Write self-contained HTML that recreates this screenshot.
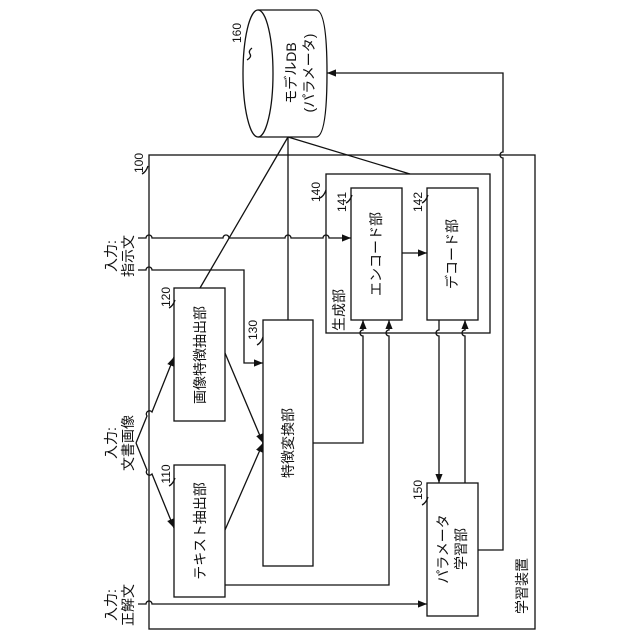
<!DOCTYPE html>
<html><head><meta charset="utf-8"><style>
body{margin:0;background:#fff}
svg{display:block}
text{font-family:"Liberation Sans","Noto Sans CJK JP",sans-serif;fill:#111}
</style></head><body>
<svg width="640" height="640" viewBox="0 0 640 640" xmlns="http://www.w3.org/2000/svg">
<defs>
<marker id="a" viewBox="0 0 10 10" refX="10" refY="5" markerWidth="7" markerHeight="7" orient="auto-start-reverse"><path d="M0,1 L10,5 L0,9 z" fill="#111"/></marker>
</defs>
<g fill="none" stroke="#111" stroke-width="1.3">
<!-- cylinder -->
<path d="M258,10 L316,10 Q327,10 327,73 Q327,137 316,137 L258,137"/>
<ellipse cx="258" cy="73.5" rx="15" ry="63.5" fill="#fff"/>
<!-- outer box -->
<rect x="149" y="155" width="386" height="474"/>
<!-- generator -->
<rect x="326" y="174" width="164" height="159"/>
<rect x="351" y="188" width="51" height="132"/>
<rect x="427" y="188" width="51" height="132"/>
<rect x="174" y="288" width="51" height="133"/>
<rect x="174" y="465" width="51" height="132"/>
<rect x="263" y="320" width="50" height="246"/>
<rect x="427" y="483" width="51" height="133"/>
<!-- DB lines -->
<line x1="288" y1="137" x2="288" y2="320"/>
<line x1="288" y1="137" x2="200" y2="288"/>
<line x1="288" y1="137" x2="410" y2="174"/>
<!-- input 指示文 -->
<path d="M138,238 L146,238 a3,3 0 0 1 6,0 L223,238 a3,3 0 0 1 6,0 L285,238 a3,3 0 0 1 6,0 L323,238 a3,3 0 0 1 6,0 L351,238" marker-end="url(#a)"/>
<path d="M138,270 L146,270 a3,3 0 0 1 6,0 L244,270 L244,363 L263,363" marker-end="url(#a)"/>
<!-- enc->dec -->
<line x1="402" y1="253" x2="427" y2="253" marker-end="url(#a)"/>
<!-- document image -->
<path d="M136,443 L147,416 a3,3 0 0 1 5,-4 L174,357" marker-end="url(#a)"/>
<path d="M136,443 L147,470 a3,3 0 0 0 5,4 L174,528" marker-end="url(#a)"/>
<line x1="225" y1="353" x2="263" y2="443" marker-end="url(#a)"/>
<line x1="225" y1="530" x2="263" y2="443" marker-end="url(#a)"/>
<path d="M313,443 L363,443 L363,336 a3,3 0 0 1 0,-6 L363,320" marker-end="url(#a)"/>
<path d="M225,585 L389,585 L389,336 a3,3 0 0 1 0,-6 L389,320" marker-end="url(#a)"/>
<path d="M439,320 L439,330 a3,3 0 0 0 0,6 L439,483" marker-end="url(#a)"/>
<path d="M465,483 L465,336 a3,3 0 0 1 0,-6 L465,320" marker-end="url(#a)"/>
<path d="M138,604 L146,604 a3,3 0 0 1 6,0 L427,604" marker-end="url(#a)"/>
<path d="M478,550 L503,550 L503,158 a3,3 0 0 1 0,-6 L503,73 L327,73" marker-end="url(#a)"/>
<!-- leaders -->
<path d="M252,48 q-4,3 -2,6 t-3,6"/>
<path d="M148,166 q-2,6 -6,8"/>
<path d="M326,190 q-2,6 -6,8"/>
<path d="M352,195 q-2,6 -6,8"/>
<path d="M428,195 q-2,6 -6,8"/>
<path d="M175,300 q-2,6 -6,8"/>
<path d="M263,337 q-2,6 -6,8"/>
<path d="M175,478 q-2,6 -6,8"/>
<path d="M428,497 q-2,6 -6,8"/>
</g>
<g font-size="14" text-anchor="middle">
<text transform="translate(296,73) rotate(-90)">モデルDB</text>
<text transform="translate(314,73) rotate(-90)">(パラメータ)</text>
<text transform="translate(381,254) rotate(-90)">エンコード部</text>
<text transform="translate(457,254) rotate(-90)">デコード部</text>
<text transform="translate(205,355) rotate(-90)">画像特徴抽出部</text>
<text transform="translate(205,531) rotate(-90)">テキスト抽出部</text>
<text transform="translate(293,443) rotate(-90)">特徴変換部</text>
<text transform="translate(448,549) rotate(-90)">パラメータ</text>
<text transform="translate(466,549) rotate(-90)">学習部</text>
<text transform="translate(344,310) rotate(-90)">生成部</text>
<text transform="translate(527,586) rotate(-90)">学習装置</text>
<text transform="translate(116,256) rotate(-90)">入力:</text>
<text transform="translate(133,256) rotate(-90)">指示文</text>
<text transform="translate(116,443) rotate(-90)">入力:</text>
<text transform="translate(133,443) rotate(-90)">文書画像</text>
<text transform="translate(116,605) rotate(-90)">入力:</text>
<text transform="translate(133,605) rotate(-90)">正解文</text>
</g>
<g font-size="12" text-anchor="middle">
<text transform="translate(241,33) rotate(-90)">160</text>
<text transform="translate(143,163) rotate(-90)">100</text>
<text transform="translate(320,192) rotate(-90)">140</text>
<text transform="translate(346,202) rotate(-90)">141</text>
<text transform="translate(422,202) rotate(-90)">142</text>
<text transform="translate(170,297) rotate(-90)">120</text>
<text transform="translate(257,330) rotate(-90)">130</text>
<text transform="translate(170,474) rotate(-90)">110</text>
<text transform="translate(422,490) rotate(-90)">150</text>
</g>
</svg>
</body></html>
